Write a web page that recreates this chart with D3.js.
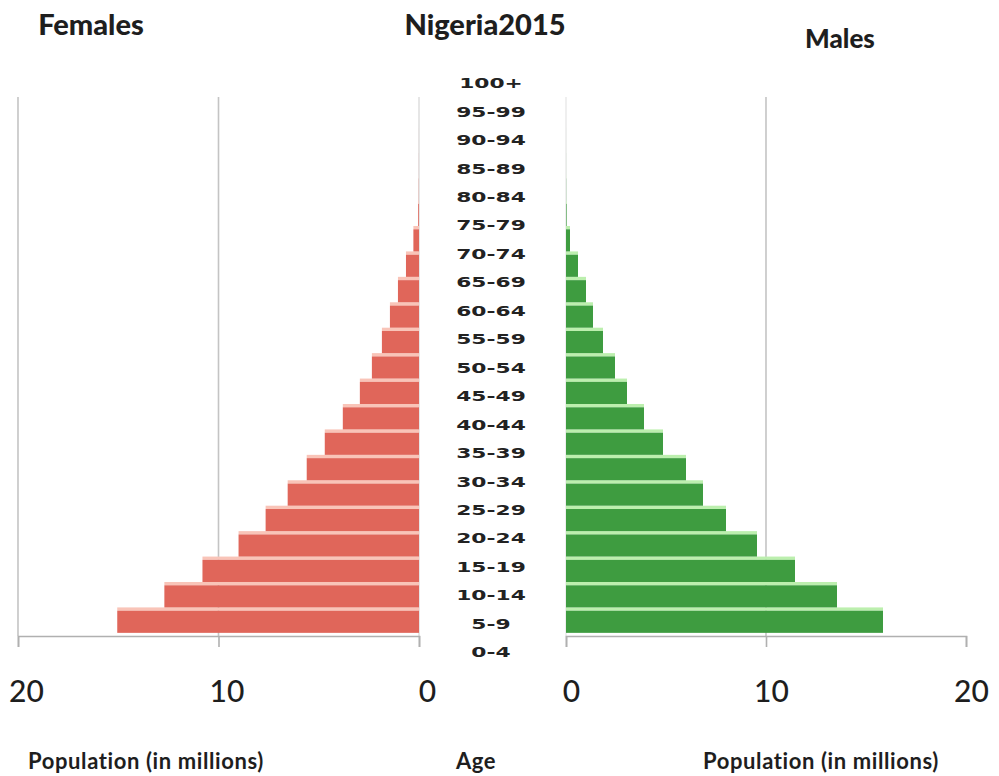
<!DOCTYPE html>
<html>
<head>
<meta charset="utf-8">
<script src="https://cdn.jsdelivr.net/npm/d3@7"></script>
<style>
  html, body { margin: 0; padding: 0; background: #fff; }
  svg { display: block; }
  text { font-family: Lato, "Open Sans", sans-serif; fill: #1e1e1e; }
</style>
</head>
<body>
<svg id="chart" width="999" height="776"></svg>
<script>
// Nigeria 2015 population by five-year age group, in millions
const ageGroups = ["0-4","5-9","10-14","15-19","20-24","25-29","30-34","35-39","40-44","45-49",
                   "50-54","55-59","60-64","65-69","70-74","75-79","80-84","85-89","90-94","95-99","100+"];
const females = [15.05, 12.7, 10.8, 9.0, 7.65, 6.55, 5.6, 4.7, 3.8, 2.95,
                 2.35, 1.85, 1.45, 1.05, 0.65, 0.28, 0.04, 0.01, 0.003, 0.001, 0.0002];
const males   = [15.85, 13.55, 11.45, 9.55, 8.0, 6.85, 6.0, 4.85, 3.9, 3.05,
                 2.45, 1.85, 1.35, 1.0, 0.6, 0.2, 0.03, 0.008, 0.002, 0.0005, 0.0001];
const xTicks = [0, 10, 20];
const gridValuesLeft = [10, 20];
const gridValuesRight = [10];

const svg = d3.select("#chart");

const plotTop = 97, plotBottom = 636;
const xLeft  = d3.scaleLinear().domain([0, 20]).range([419, 18]);
const xRight = d3.scaleLinear().domain([0, 20]).range([566, 966]);
const y = d3.scaleBand().domain(ageGroups.slice().reverse())
  .range([100.5, 634.5]).paddingInner(0.13).paddingOuter(0.065);
const yLabel = d3.scalePoint().domain(ageGroups.slice().reverse()).range([83, 652]);

const rows = ageGroups.map((a, i) => ({ age: a, f: females[i], m: males[i] }));
const gap = y.step() - y.bandwidth();

// gridlines
const grid = svg.append("g").attr("stroke", "#c4c4c4").attr("stroke-width", 1.6);
grid.selectAll(".gl").data(gridValuesLeft).join("line")
  .attr("x1", d => xLeft(d)).attr("x2", d => xLeft(d))
  .attr("y1", plotTop).attr("y2", plotBottom);
grid.selectAll(".gr").data(gridValuesRight).join("line")
  .attr("class", "gr")
  .attr("x1", d => xRight(d)).attr("x2", d => xRight(d))
  .attr("y1", plotTop).attr("y2", plotBottom);
// faint zero lines
svg.append("line").attr("x1", xLeft(0)).attr("x2", xLeft(0)).attr("y1", plotTop).attr("y2", plotBottom)
  .attr("stroke", "#dcdcdc").attr("stroke-width", 1.4);
svg.append("line").attr("x1", xRight(0)).attr("x2", xRight(0)).attr("y1", plotTop).attr("y2", plotBottom)
  .attr("stroke", "#e4e4e4").attr("stroke-width", 1.2);

// bars: a light highlight strip above each bar, then the bar itself
function drawBars(scale, key, fill, light) {
  const g = svg.append("g");
  const x0 = scale(0);
  g.selectAll("rect.hl").data(rows).join("rect").attr("class", "hl")
    .attr("x", d => Math.min(x0, scale(d[key])))
    .attr("width", d => Math.abs(scale(d[key]) - x0))
    .attr("y", d => y(d.age) - gap)
    .attr("height", gap)
    .attr("fill", light);
  g.selectAll("rect.bar").data(rows).join("rect").attr("class", "bar")
    .attr("x", d => Math.min(x0, scale(d[key])))
    .attr("width", d => Math.abs(scale(d[key]) - x0))
    .attr("y", d => y(d.age))
    .attr("height", y.bandwidth())
    .attr("fill", fill);
}
drawBars(xLeft, "f", "#e0665a", "#f9c4b8");
drawBars(xRight, "m", "#3e9c40", "#bcefae");

// x axes
function drawAxis(scale, dx) {
  const ax = svg.append("g").attr("transform", `translate(0,${plotBottom})`)
    .call(d3.axisBottom(scale).tickValues(xTicks).tickSize(11).tickSizeOuter(11).tickPadding(34).tickFormat(d3.format("d")));
  ax.selectAll("path, line").attr("stroke", "#b0b0b0").attr("stroke-width", 1.6);
  ax.selectAll("text").attr("font-family", "Lato, sans-serif").attr("font-size", 30)
    .attr("font-weight", 500).attr("fill", "#1e1e1e").attr("dx", dx);
}
drawAxis(xLeft, 8);
drawAxis(xRight, 5);

// age labels in the centre column
svg.append("g").attr("transform", "translate(491,0) scale(1.5,1)")
  .selectAll("text").data(ageGroups).join("text")
  .attr("x", 0).attr("y", d => yLabel(d)).attr("dy", "0.36em")
  .attr("text-anchor", "middle")
  .style("font-family", "'DejaVu Sans', sans-serif").style("font-weight", "bold").style("font-size", "14.5px")
  .style("fill", "#222")
  .text(d => d);

// titles
const titles = [
  { t: "Females", x: 91, y: 35, s: 29 },
  { t: "Nigeria2015", x: 485, y: 35, s: 29 },
  { t: "Males", x: 840, y: 48, s: 26 }
];
svg.selectAll("text.title").data(titles).join("text").attr("class", "title")
  .attr("x", d => d.x).attr("y", d => d.y).attr("text-anchor", "middle")
  .style("font-weight", "900").style("font-size", d => d.s + "px")
  .text(d => d.t);

const axisTitles = [
  { t: "Population (in millions)", x: 146 },
  { t: "Age", x: 476 },
  { t: "Population (in millions)", x: 821 }
];
svg.selectAll("text.atitle").data(axisTitles).join("text").attr("class", "atitle")
  .attr("x", d => d.x).attr("y", 769).attr("text-anchor", "middle")
  .style("font-weight", "bold").style("font-size", "22px").style("letter-spacing", "0.6px")
  .text(d => d.t);
</script>
</body>
</html>
